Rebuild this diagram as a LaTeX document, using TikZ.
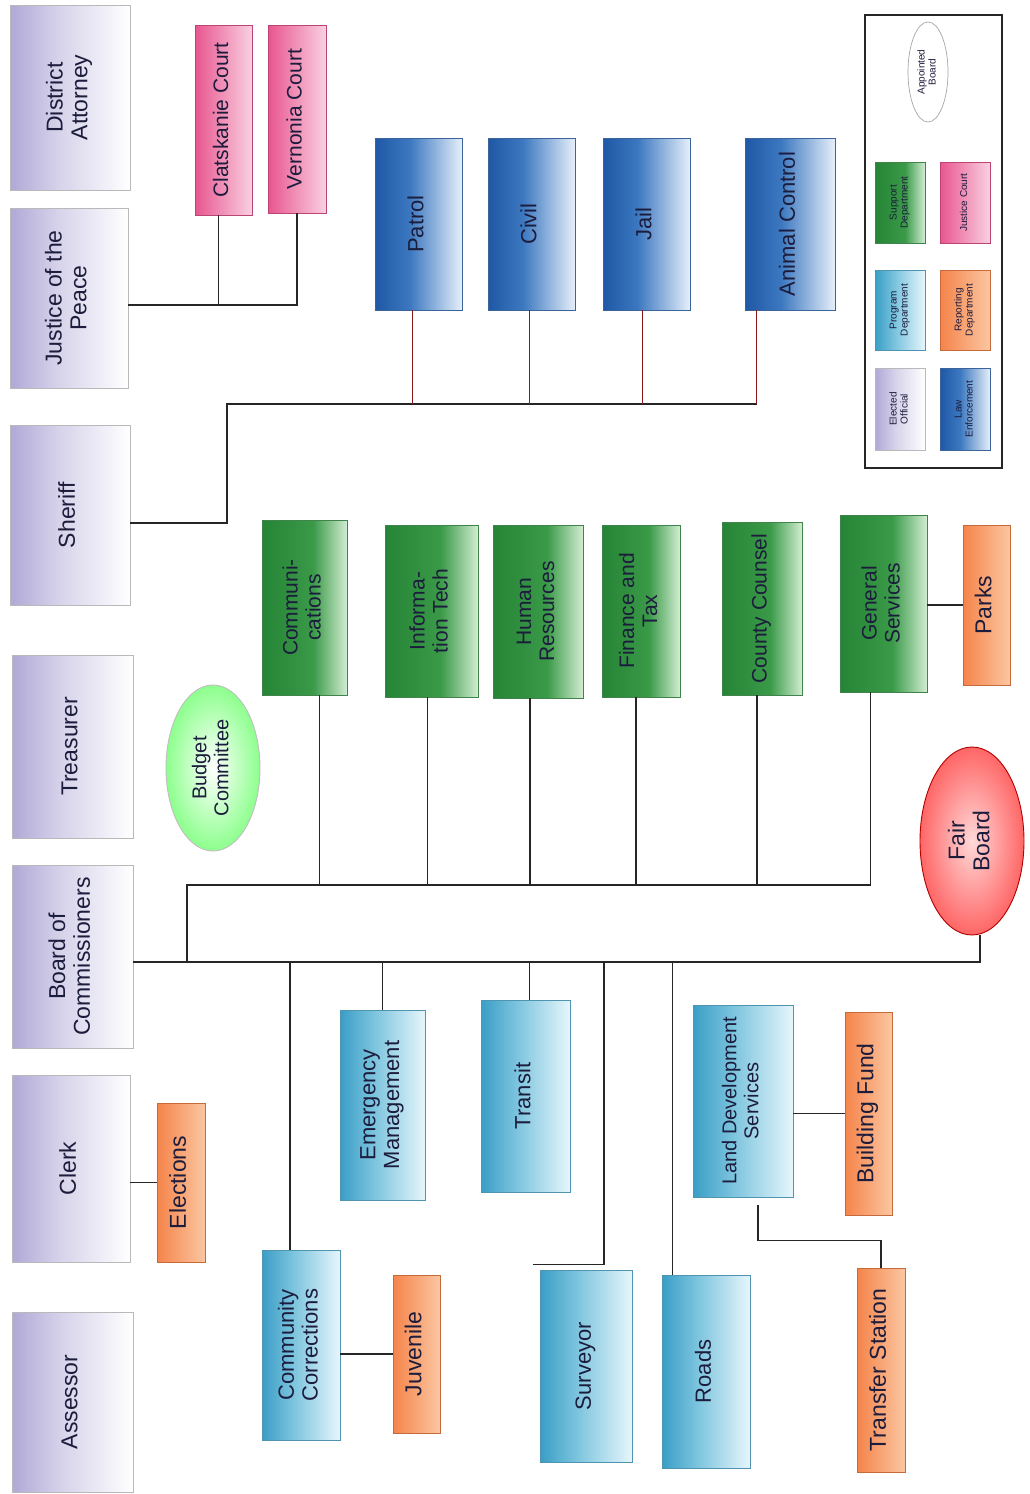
\documentclass[tikz,border=0pt]{standalone}
\usepackage{fontspec}
\setmainfont{Liberation Sans}
\usepackage{graphicx}
\usetikzlibrary{shapes.geometric,calc}
\definecolor{txt}{HTML}{1C1C3C}
\definecolor{elecL}{HTML}{B0A8D6}
\definecolor{elecM}{HTML}{D6D2EA}
\definecolor{lawL}{HTML}{1F58A6}
\definecolor{lawM}{HTML}{3C78C0}
\definecolor{lawR}{HTML}{E6EFFA}
\definecolor{supL}{HTML}{268436}
\definecolor{supM}{HTML}{3A9A48}
\definecolor{supR}{HTML}{D2EDD2}
\definecolor{progL}{HTML}{3A9EC6}
\definecolor{progM}{HTML}{7CC4DE}
\definecolor{progR}{HTML}{E6F6FB}
\definecolor{repL}{HTML}{F5844A}
\definecolor{repR}{HTML}{FBC6A2}
\definecolor{jcL}{HTML}{E8568F}
\definecolor{jcR}{HTML}{F9D0E1}
\definecolor{lineC}{HTML}{262626}
\definecolor{lawLine}{HTML}{8B1A1A}
\pgfdeclarehorizontalshading{elecsh}{100bp}{color(0bp)=(elecL); color(25bp)=(elecL); color(45bp)=(elecM); color(75bp)=(white); color(100bp)=(white)}
\pgfdeclarehorizontalshading{lawsh}{100bp}{color(0bp)=(lawL); color(25bp)=(lawL); color(45bp)=(lawM); color(75bp)=(lawR); color(100bp)=(lawR)}
\pgfdeclarehorizontalshading{supsh}{100bp}{color(0bp)=(supL); color(25bp)=(supL); color(55bp)=(supM); color(75bp)=(supR); color(100bp)=(supR)}
\pgfdeclarehorizontalshading{progsh}{100bp}{color(0bp)=(progL); color(25bp)=(progL); color(45bp)=(progM); color(75bp)=(progR); color(100bp)=(progR)}
\pgfdeclarehorizontalshading{repsh}{100bp}{color(0bp)=(repL); color(25bp)=(repL); color(75bp)=(repR); color(100bp)=(repR)}
\pgfdeclarehorizontalshading{jcsh}{100bp}{color(0bp)=(jcL); color(25bp)=(jcL); color(75bp)=(jcR); color(100bp)=(jcR)}
\renewcommand\arraystretch{0.92}
\newcommand\orgbox[7]{\node[#1, minimum width={(#5-#3)*1pt}, minimum height={(#6-#4)*1pt}] (#2) at ({(#3+#5)/2},{(#4+#6)/2}) {\rotatebox{90}{\begin{tabular}{@{}c@{}}#7\end{tabular}}};}
\tikzset{
  base/.style={inner sep=0pt, text=txt, line width=0.9pt},
  elected/.style={base, draw=gray!55, shade, shading=elecsh, font=\fontsize{23}{27}\selectfont},
  justice/.style={base, draw=jcL!80!black, shade, shading=jcsh, font=\fontsize{21}{25}\selectfont},
  law/.style={base, draw=lawL!70!gray, shade, shading=lawsh, font=\fontsize{22}{26}\selectfont},
  support/.style={base, draw=supL!70!gray, shade, shading=supsh, font=\fontsize{21}{25}\selectfont},
  program/.style={base, draw=progL!70!gray, shade, shading=progsh, font=\fontsize{22}{26}\selectfont},
  report/.style={base, draw=repL!80!black, shade, shading=repsh, font=\fontsize{23}{27}\selectfont},
  tiny/.style={font=\fontsize{10}{12}\selectfont, line width=0.7pt},
  legendframe/.style={draw=lineC, line width=1.3pt, inner sep=0pt},
  conn/.style={draw=lineC, line width=1.5pt},
  lawconn/.style={draw=lawLine, line width=1.5pt},
}
\begin{document}
\begin{tikzpicture}[x=1pt,y=-1pt]
\useasboundingbox[fill=white] (0,0) rectangle (1029,1494);
% elected officials
\orgbox{elected}{da}{10}{5}{130}{190}{District\\Attorney}
\orgbox{elected}{jp}{10}{208}{128}{388}{Justice of the\\Peace}
\orgbox{elected}{sheriff}{10}{425}{130}{605}{Sheriff}
\orgbox{elected}{treasurer}{12}{655}{133}{838}{Treasurer}
\orgbox{elected}{board}{12}{865}{133}{1048}{Board of\\Commissioners}
\orgbox{elected}{clerk}{12}{1075}{130}{1262}{Clerk}
\orgbox{elected}{assessor}{12}{1312}{133}{1492}{Assessor}
% justice courts
\orgbox{justice}{clat}{195}{25}{252}{215}{Clatskanie Court}
\orgbox{justice}{vern}{268}{25}{326}{213}{Vernonia Court}
% law enforcement
\orgbox{law}{patrol}{375}{138}{462}{310}{Patrol}
\orgbox{law}{civil}{488}{138}{575}{310}{Civil}
\orgbox{law}{jail}{603}{138}{690}{310}{Jail}
\orgbox{law}{animal}{745}{138}{835}{310}{Animal Control}
% support
\orgbox{support}{comm}{262}{520}{347}{695}{Communi-\\cations}
\orgbox{support}{it}{385}{525}{478}{697}{Informa-\\tion Tech}
\orgbox{support}{hr}{493}{525}{583}{698}{Human\\Resources}
\orgbox{support}{fin}{602}{525}{680}{697}{Finance and\\Tax}
\orgbox{support}{counsel}{722}{522}{802}{695}{County Counsel}
\orgbox{support}{gs}{840}{515}{927}{692}{General\\Services}
% reporting
\orgbox{report}{parks}{963}{525}{1010}{685}{Parks}
\orgbox{report}{elections}{157}{1103}{205}{1262}{Elections}
\orgbox{report}{juvenile}{393}{1275}{440}{1433}{Juvenile}
\orgbox{report}{building}{845}{1012}{892}{1215}{Building Fund}
\orgbox{report}{transfer}{857}{1268}{905}{1472}{Transfer Station}
% program
\orgbox{program}{commcorr}{262}{1250}{340}{1440}{Community\\Corrections}
\orgbox{program}{emerg}{340}{1010}{425}{1200}{Emergency\\Management}
\orgbox{program}{transit}{481}{1000}{570}{1192}{Transit}
\orgbox{program,font=\fontsize{20}{24}\selectfont}{lds}{693}{1005}{793}{1197}{Land Development\\Services}
\orgbox{program}{surveyor}{540}{1270}{632}{1462}{Surveyor}
\orgbox{program}{roads}{662}{1275}{750}{1468}{Roads}
% boards
\node[ellipse, base, draw=gray!50, inner color=white, outer color=green!45!white, minimum width=94pt, minimum height=166pt, font=\fontsize{20}{24}\selectfont] (budget) at (213,768) {\rotatebox{90}{\begin{tabular}{@{}c@{}}Budget\\Committee\end{tabular}}};
\node[ellipse, base, draw=red!70!black, inner color=red!15!white, outer color=red!60!white, minimum width=104pt, minimum height=188pt, font=\fontsize{23}{27}\selectfont] (fair) at (972,841) {\rotatebox{90}{\begin{tabular}{@{}c@{}}Fair\\Board\end{tabular}}};
% legend
\orgbox{legendframe}{legend}{865}{15}{1002}{468}{}
\node[ellipse, base, tiny, draw=gray!70, fill=white, minimum width=40pt, minimum height=100pt] (lapp) at (928,72) {\rotatebox{90}{\begin{tabular}{@{}c@{}}Appointed\\Board\end{tabular}}};
\orgbox{support,tiny}{lsup}{875}{162}{925}{243}{Support\\Department}
\orgbox{justice,tiny}{ljc}{940}{162}{990}{243}{Justice Court}
\orgbox{program,tiny}{lprog}{875}{270}{925}{350}{Program\\Department}
\orgbox{report,tiny}{lrep}{940}{270}{990}{350}{Reporting\\Department}
\orgbox{elected,tiny}{lelec}{875}{368}{925}{450}{Elected\\Official}
\orgbox{law,tiny}{llaw}{940}{368}{990}{450}{Law\\Enforcement}
% connectors: justice of the peace
\path ($(jp.east)+(0,7)$) coordinate (jpe);
\path ($(clat.south)+(-5,0)$) coordinate (cls);
\draw[conn] (jpe) -- (jpe -| vern.south) -- (vern.south);
\draw[conn] (cls) -- (cls |- jpe);
% sheriff
\coordinate (sb) at (227,404);
\path ($(sheriff.east)+(0,8)$) coordinate (she);
\path ($(animal.south west)+(12,0)$) coordinate (ac);
\draw[conn] (she) -| (sb) -- (sb -| ac);
\draw[lawconn] (ac) -- (ac |- sb);
\foreach \n/\o in {patrol/-6,civil/-2,jail/-4}{
  \path ($(\n.south)+(\o,0)$) coordinate (t);
  \draw[lawconn] (t) -- (t |- sb);
}
% board of commissioners main line
\coordinate (mj) at (980,962);
\draw[conn] (board.east |- mj) -- (mj) -- (mj |- fair.south);
\coordinate (ub) at (187,885);
\path ($(gs.south)+(-13,0)$) coordinate (gsx);
\draw[conn] (ub |- mj) -- (ub) -- (ub -| gsx);
\foreach \n/\o in {comm/15,it/-4,hr/-8,fin/-5,counsel/-5,gs/-13}{
  \path ($(\n.south)+(\o,0)$) coordinate (t);
  \draw[conn] (t) -- (t |- ub);
}
\foreach \n/\o in {commcorr/-11,emerg/0,transit/4}{
  \path ($(\n.north)+(\o,0)$) coordinate (t);
  \draw[conn] (t |- mj) -- (t);
}
\path ($(roads.north west)+(11,0)$) coordinate (rt);
\draw[conn] (rt |- mj) -- (rt);
\coordinate (svtop) at (604,962);
\path ($(surveyor.north west)+(-7,-5)$) coordinate (svc);
\draw[conn] (svtop) |- (svc);
% reporting links
\draw[conn] (gs.east |- parks.west) -- (parks.west);
\draw[conn] (clerk.east |- elections.west) -- (elections.west);
\draw[conn] (commcorr.east |- juvenile.west) -- (juvenile.west);
\draw[conn] (lds.east |- building.west) -- (building.west);
\path ($(lds.south)+(15,8)$) coordinate (tsa);
\draw[conn] (tsa) -- ++(0,35) -| (transfer.north);
\end{tikzpicture}
\end{document}
